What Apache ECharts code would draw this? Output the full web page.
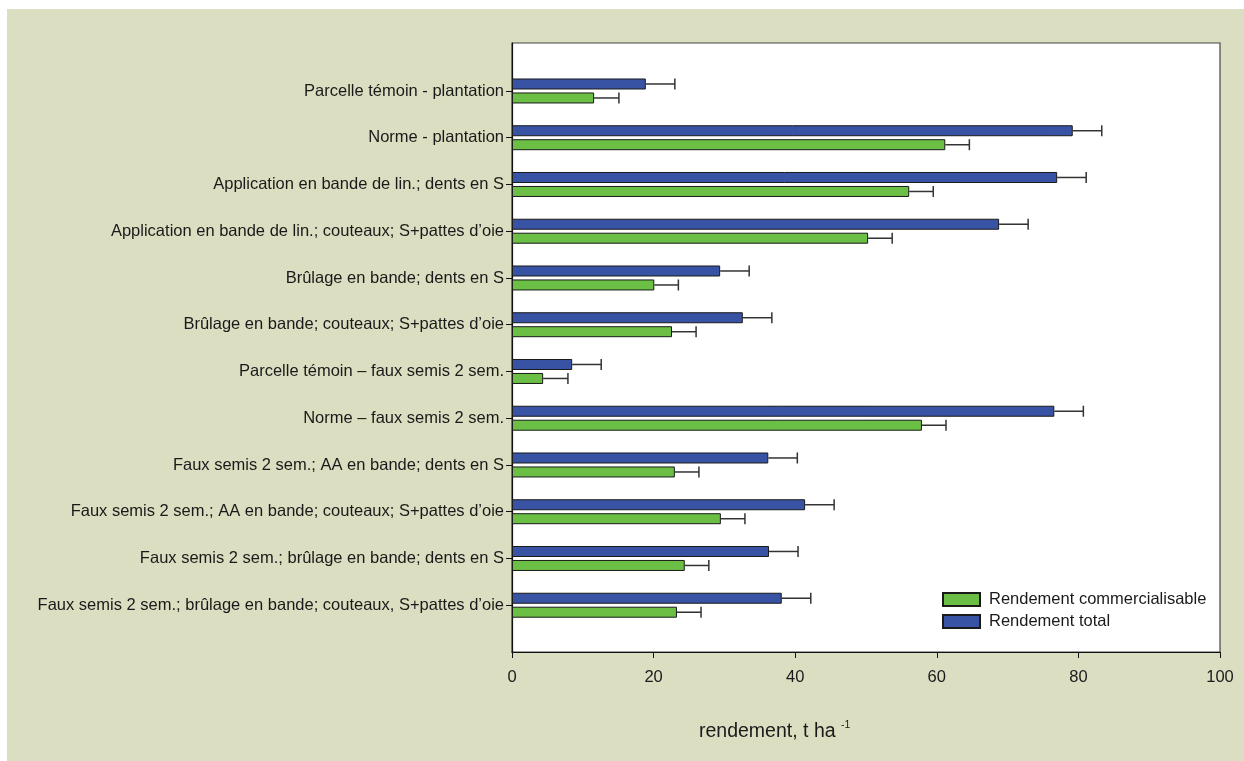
<!DOCTYPE html>
<html><head><meta charset="utf-8">
<script src="https://cdn.jsdelivr.net/npm/echarts@6/dist/echarts.min.js"></script>
<style>html,body{margin:0;padding:0;background:#fff}#c{width:1244px;height:761px}</style>
</head><body><div id="c"></div>
<script>
const categories = [
  "Parcelle témoin - plantation",
  "Norme - plantation",
  "Application en bande de lin.; dents en S",
  "Application en bande de lin.; couteaux; S+pattes d’oie",
  "Brûlage en bande; dents en S",
  "Brûlage en bande; couteaux; S+pattes d’oie",
  "Parcelle témoin – faux semis 2 sem.",
  "Norme – faux semis 2 sem.",
  "Faux semis 2 sem.; AA en bande; dents en S",
  "Faux semis 2 sem.; AA en bande; couteaux; S+pattes d’oie",
  "Faux semis 2 sem.; brûlage en bande; dents en S",
  "Faux semis 2 sem.; brûlage en bande; couteaux, S+pattes d’oie"
];
const totalValues      = [18.9, 79.2, 77.0, 68.8, 29.4, 32.6, 8.5, 76.6, 36.2, 41.4, 36.3, 38.1];
const totalErrors      = [4.1, 4.1, 4.1, 4.1, 4.1, 4.1, 4.1, 4.1, 4.1, 4.1, 4.1, 4.1];
const commercialValues = [11.6, 61.2, 56.1, 50.3, 20.1, 22.6, 4.4, 57.9, 23.0, 29.5, 24.4, 23.3];
const commercialErrors = [3.5, 3.4, 3.4, 3.4, 3.4, 3.4, 3.5, 3.4, 3.4, 3.4, 3.4, 3.4];
const seriesNames = ["Rendement total", "Rendement commercialisable"];
const xMin = 0, xMax = 100, xStep = 20;

const FONT = '"Liberation Sans", Arial, sans-serif';
const BLUE = '#3953a4', GREEN = '#6bbf45';
const BAR_W = 11;

function errSeries(vals, errs, offset) {
  return {
    type: 'custom', xAxisIndex: 1, yAxisIndex: 1, z: 5, silent: true,
    encode: { x: 0, y: 1 },
    data: vals.map((v, i) => [v, i, errs[i]]),
    renderItem: function (params, api) {
      const v = api.value(0), idx = api.value(1), e = api.value(2);
      const p0 = api.coord([v, idx]);
      const p1 = api.coord([v + e, idx]);
      const y = p0[1] + offset;
      const st = { stroke: '#333', lineWidth: 1.5 };
      return { type: 'group', children: [
        { type: 'line', shape: { x1: p0[0], y1: y, x2: p1[0], y2: y }, style: st },
        { type: 'line', shape: { x1: p1[0], y1: y - BAR_W / 2, x2: p1[0], y2: y + BAR_W / 2 }, style: st }
      ]};
    }
  };
}

const chart = echarts.init(document.getElementById('c'));
chart.setOption({
  backgroundColor: '#ffffff',
  animation: false,
  textStyle: { fontFamily: FONT },
  graphic: [
    { type: 'rect', z: -10, shape: { x: 7, y: 9, width: 1237, height: 752 }, style: { fill: '#dbdec0' } },
    { type: 'text', x: 699, y: 732, z: 10,
      style: { text: '{a|rendement, t ha }{b|-1}', verticalAlign: 'middle',
        rich: { a: { fontSize: 19.5, fontFamily: FONT, fill: '#1a1a1a' },
                b: { fontSize: 10.5, fontFamily: FONT, fill: '#1a1a1a', padding: [0, 0, 13, 0] } } } }
  ],
  legend: {
    data: [seriesNames[1], seriesNames[0]],
    icon: 'rect',
    orient: 'vertical', left: 937, top: 586, itemWidth: 37, itemHeight: 13, itemGap: 5,
    textStyle: { fontSize: 16.5, color: '#1a1a1a', fontFamily: FONT, padding: [0, 0, 0, 4] },
    selectedMode: false
  },
  grid: [
    { left: 512, top: 43, width: 708, height: 609, show: true, backgroundColor: '#ffffff', borderColor: '#444', borderWidth: 1.2 },
    { left: 512, top: 67.6, width: 708, height: 561 }
  ],
  xAxis: [
    { type: 'value', gridIndex: 0, min: xMin, max: xMax, interval: xStep,
      axisLine: { show: true, lineStyle: { color: '#111', width: 1.2 } },
      axisTick: { show: true, inside: false, length: 6, lineStyle: { color: '#111' } },
      axisLabel: { fontSize: 16.5, color: '#1a1a1a', margin: 17, fontFamily: FONT },
      splitLine: { show: false } },
    { type: 'value', gridIndex: 1, min: xMin, max: xMax, show: false }
  ],
  yAxis: [
    { type: 'value', gridIndex: 0, min: 0, max: 1,
      axisLine: { show: true, lineStyle: { color: '#111', width: 1.2 } },
      axisTick: { show: false }, axisLabel: { show: false }, splitLine: { show: false } },
    { type: 'category', gridIndex: 1, inverse: true, data: categories,
      axisLine: { show: false },
      axisTick: { show: true, alignWithLabel: true, length: 6, lineStyle: { color: '#111' } },
      axisLabel: { fontSize: 16.5, color: '#1a1a1a', margin: 8, fontFamily: FONT },
      splitLine: { show: false } }
  ],
  series: [
    { name: seriesNames[0], type: 'bar', xAxisIndex: 1, yAxisIndex: 1, data: totalValues,
      barWidth: BAR_W, barGap: '27%',
      itemStyle: { color: BLUE, borderColor: '#1a1a1a', borderWidth: 1 } },
    { name: seriesNames[1], type: 'bar', xAxisIndex: 1, yAxisIndex: 1, data: commercialValues,
      barWidth: BAR_W, barGap: '27%',
      itemStyle: { color: GREEN, borderColor: '#1a1a1a', borderWidth: 1 } },
    errSeries(totalValues, totalErrors, -7),
    errSeries(commercialValues, commercialErrors, 7)
  ]
});
</script></body></html>
